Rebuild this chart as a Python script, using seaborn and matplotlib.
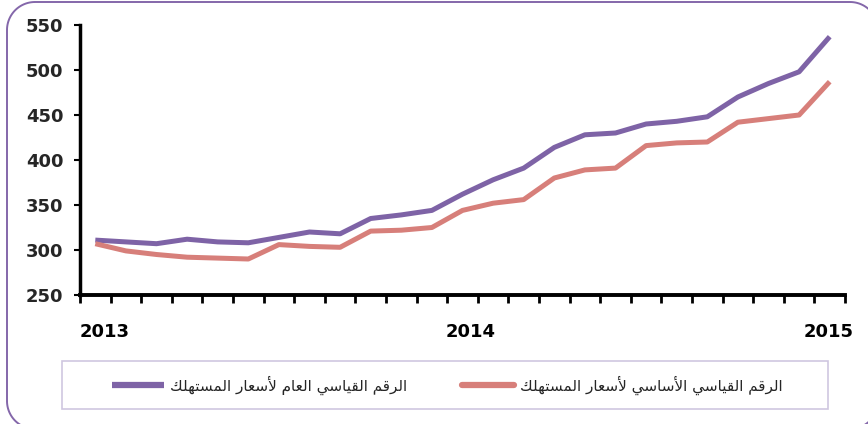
import matplotlib
matplotlib.use("Agg")
import matplotlib.pyplot as plt
from matplotlib.patches import Rectangle, Polygon
import seaborn as sns
import pandas as pd
import numpy as np

# ---------------- data ----------------
months = list(range(25))  # Jan 2013 .. Jan 2015
year_labels = ["2013", "2014", "2015"]
year_positions = [0.3, 12.25, 23.95]
general_cpi = [311, 309, 307, 312, 309, 308, 314, 320, 318, 335, 339, 344, 362,
               378, 391, 414, 428, 430, 440, 443, 448, 470, 485, 498, 537]
core_cpi = [307, 299, 295, 292, 291, 290, 306, 304, 303, 321, 322, 325, 344,
            352, 356, 380, 389, 391, 416, 419, 420, 442, 446, 450, 487]
name_general = "الرقم القياسي العام لأسعار المستهلك"
name_core = "الرقم القياسي الأساسي لأسعار المستهلك"
y_ticks = [250, 300, 350, 400, 450, 500, 550]

# ------------- minimal Arabic shaping (matplotlib has no bidi/shaping) -------------
FORMS = {
    '\u0627': ('\uFE8D', '\uFE8E', None, None),
    '\u0623': ('\uFE83', '\uFE84', None, None),
    '\u0644': ('\uFEDD', '\uFEDE', '\uFEDF', '\uFEE0'),
    '\u0631': ('\uFEAD', '\uFEAE', None, None),
    '\u0642': ('\uFED5', '\uFED6', '\uFED7', '\uFED8'),
    '\u0645': ('\uFEE1', '\uFEE2', '\uFEE3', '\uFEE4'),
    '\u064A': ('\uFEF1', '\uFEF2', '\uFEF3', '\uFEF4'),
    '\u0633': ('\uFEB1', '\uFEB2', '\uFEB3', '\uFEB4'),
    '\u0639': ('\uFEC9', '\uFECA', '\uFECB', '\uFECC'),
    '\u062A': ('\uFE95', '\uFE96', '\uFE97', '\uFE98'),
    '\u0647': ('\uFEE9', '\uFEEA', '\uFEEB', '\uFEEC'),
    '\u0643': ('\uFED9', '\uFEDA', '\uFEDB', '\uFEDC'),
}
LAM_ALEF = {'\u0627': ('\uFEFB', '\uFEFC'), '\u0623': ('\uFEF7', '\uFEF8')}


def shape(text):
    units = []
    i = 0
    while i < len(text):
        c = text[i]
        if c == '\u0644' and i + 1 < len(text) and text[i + 1] in LAM_ALEF:
            units.append(('LA', text[i + 1]))
            i += 2
        else:
            units.append(('C', c))
            i += 1

    def forms(u):
        if u[0] == 'LA':
            return (LAM_ALEF[u[1]][0], LAM_ALEF[u[1]][1], None, None)
        return FORMS.get(u[1])

    out = []
    for k, u in enumerate(units):
        f = forms(u)
        if f is None:
            out.append(u[1])
            continue
        prev = forms(units[k - 1]) if k > 0 else None
        nxt = forms(units[k + 1]) if k + 1 < len(units) else None
        jp = prev is not None and prev[2] is not None
        jn = f[2] is not None and nxt is not None
        if jp and jn:
            out.append(f[3])
        elif jp:
            out.append(f[1])
        elif jn:
            out.append(f[2])
        else:
            out.append(f[0])
    return ''.join(reversed(out))


def rounded_rect(x0, y0, x1, y1, r, n=24):
    """Vertices of a rounded rectangle (pixel units, origin bottom-left)."""
    pts = []
    corners = [(x1 - r, y0 + r, -90, 0), (x1 - r, y1 - r, 0, 90),
               (x0 + r, y1 - r, 90, 180), (x0 + r, y0 + r, 180, 270)]
    for cx, cy, a0, a1 in corners:
        t = np.radians(np.linspace(a0, a1, n))
        pts.extend(zip(cx + r * np.cos(t), cy + r * np.sin(t)))
    return np.array(pts)


# ---------------- figure ----------------
sns.set_theme(style="white")
plt.rcParams['font.family'] = ['DejaVu Sans']

W, H = 868, 424
fig = plt.figure(figsize=(W / 100, H / 100), dpi=100)

# background axes in pixel units (origin bottom-left) for the frames
bg = fig.add_axes([0, 0, 1, 1], zorder=-1)
bg.set_xlim(0, W)
bg.set_ylim(0, H)
bg.axis("off")
bg.add_patch(Polygon(rounded_rect(7, -5, 878, H - 2, 28), closed=True,
                     fill=False, edgecolor="#8467AA", linewidth=1.4))
bg.add_patch(Rectangle((62, H - 409), 828 - 62, 409 - 361, fill=False,
                       edgecolor="#CFC7E0", linewidth=1.2))

ax = fig.add_axes([80 / W, 1 - 295 / H, (845 - 80) / W, (295 - 25) / H])

df = pd.DataFrame({
    "month": months * 2,
    "value": general_cpi + core_cpi,
    "series": [name_general] * len(months) + [name_core] * len(months),
})
palette = {name_general: "#7E63A6", name_core: "#D77F7A"}
sns.lineplot(data=df, x="month", y="value", hue="series", palette=palette,
             linewidth=3.6, ax=ax, legend=False)
for ln in ax.lines:
    ln.set_solid_joinstyle("round")
    ln.set_solid_capstyle("butt")

ax.set_xlim(-0.5, 24.5)
ax.set_ylim(250, 550)
ax.set_xlabel("")
ax.set_ylabel("")
ax.set_yticks(y_ticks)
ax.set_yticklabels([str(v) for v in y_ticks], fontsize=13, fontweight="bold")
ax.set_xticks(year_positions)
ax.set_xticklabels(year_labels, fontsize=13, fontweight="bold")
ax.set_xticks(np.arange(-0.5, 25, 1), minor=True)
ax.tick_params(axis="x", which="major", length=0, pad=20, colors="black")
ax.tick_params(axis="x", which="minor", length=6, width=2, direction="out",
               color="black", bottom=True)
ax.tick_params(axis="y", which="major", length=4, width=1.5, direction="out",
               color="black", pad=8, left=True)
for s in ["top", "right"]:
    ax.spines[s].set_visible(False)
ax.spines["left"].set_linewidth(2.5)
ax.spines["bottom"].set_linewidth(2.8)
ax.spines["left"].set_color("black")
ax.spines["bottom"].set_color("black")
ax.grid(False)
ax.patch.set_alpha(0)

handles = [plt.Line2D([], [], color=palette[name_general], linewidth=4.5, solid_capstyle="butt"),
           plt.Line2D([], [], color=palette[name_core], linewidth=4.5, solid_capstyle="round")]
labels = [shape(name_general), shape(name_core)]
fig.legend(handles, labels, loc="center", bbox_to_anchor=(447 / W, 1 - 385 / H),
           ncol=2, frameon=False, fontsize=11, handlelength=3.4,
           handletextpad=0.4, columnspacing=3.6)

fig.savefig("out.png", dpi=100)
